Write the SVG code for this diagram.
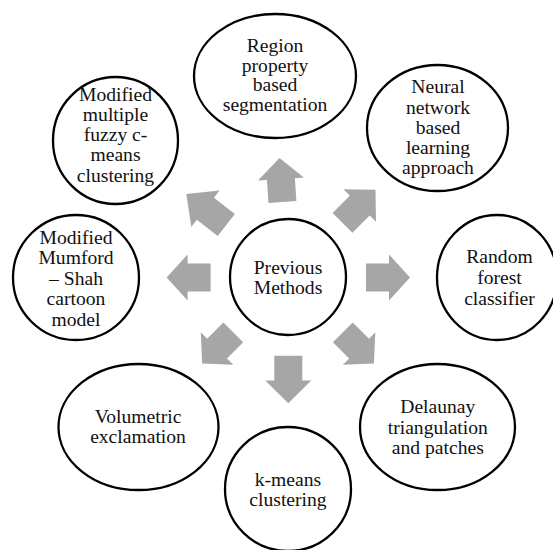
<svg xmlns="http://www.w3.org/2000/svg" xmlns:xlink="http://www.w3.org/1999/xlink" width="553" height="550" viewBox="0 0 553 550">
<style>
.node ellipse{fill:#ffffff;stroke:#000000;stroke-width:2.3}
.node text{font-family:'Liberation Serif','Times New Roman','DejaVu Serif',serif;font-size:19.6px;fill:#111111;text-anchor:middle}
.arrow{fill:#A6A6A6}
</style>
<defs>
<path id="arr" d="M0,-14 H23 V-23 L44,0 L23,23 V14 H0 Z"/>
</defs>
<rect x="0" y="0" width="553" height="550" fill="#ffffff"/>
<g id="connectors">
<use xlink:href="#arr" class="arrow" transform="translate(282.4,202) rotate(-93.7)"/>
<use xlink:href="#arr" class="arrow" transform="translate(342.5,222.8) rotate(-45) scale(1.06,1)"/>
<use xlink:href="#arr" class="arrow" transform="translate(366,277.5)"/>
<use xlink:href="#arr" class="arrow" transform="translate(342.8,332.3) rotate(45)"/>
<use xlink:href="#arr" class="arrow" transform="translate(288.3,355.7) rotate(90) scale(1.08,1)"/>
<use xlink:href="#arr" class="arrow" transform="translate(233.3,332.3) rotate(135)"/>
<use xlink:href="#arr" class="arrow" transform="translate(210.6,277.5) rotate(180)"/>
<use xlink:href="#arr" class="arrow" transform="translate(226.3,225) rotate(-142.2) scale(1.15,1)"/>
</g>
<g id="center" class="node">
<ellipse cx="288" cy="277" rx="58" ry="58"/>
<text font-family="Liberation Serif, serif"><tspan x="288" y="274">Previous</tspan><tspan x="288" y="293.5">Methods</tspan></text>
</g>
<g id="region" class="node">
<ellipse cx="275" cy="76" rx="81" ry="62"/>
<text font-family="Liberation Serif, serif"><tspan x="275" y="52">Region</tspan><tspan x="275" y="71.5">property</tspan><tspan x="275" y="91">based</tspan><tspan x="275" y="110.5">segmentation</tspan></text>
</g>
<g id="neural" class="node">
<ellipse cx="437.5" cy="128" rx="70.5" ry="63"/>
<text font-family="Liberation Serif, serif"><tspan x="438" y="93.3">Neural</tspan><tspan x="438" y="113.5">network</tspan><tspan x="438" y="134">based</tspan><tspan x="438" y="154">learning</tspan><tspan x="438" y="174">approach</tspan></text>
</g>
<g id="random" class="node">
<ellipse cx="497" cy="277.5" rx="60" ry="62.5"/>
<text font-family="Liberation Serif, serif"><tspan x="499.5" y="263.3">Random</tspan><tspan x="499.5" y="284">forest</tspan><tspan x="499.5" y="305">classifier</tspan></text>
</g>
<g id="delaunay" class="node">
<ellipse cx="437.5" cy="427" rx="77.5" ry="63"/>
<text font-family="Liberation Serif, serif"><tspan x="437.8" y="413.3">Delaunay</tspan><tspan x="437.8" y="433.5">triangulation</tspan><tspan x="437.8" y="454">and patches</tspan></text>
</g>
<g id="kmeans" class="node">
<ellipse cx="288" cy="489" rx="63" ry="62"/>
<text font-family="Liberation Serif, serif"><tspan x="288" y="485.5">k-means</tspan><tspan x="288" y="505.5">clustering</tspan></text>
</g>
<g id="volumetric" class="node">
<ellipse cx="138.5" cy="427" rx="80" ry="63"/>
<text font-family="Liberation Serif, serif"><tspan x="138" y="422.7">Volumetric</tspan><tspan x="138" y="442.7">exclamation</tspan></text>
</g>
<g id="mumford" class="node">
<ellipse cx="76" cy="277.5" rx="63" ry="62.5"/>
<text font-family="Liberation Serif, serif"><tspan x="76" y="243.5">Modified</tspan><tspan x="76" y="264">Mumford</tspan><tspan x="76" y="284.5">– Shah</tspan><tspan x="76" y="305">cartoon</tspan><tspan x="76" y="325.5">model</tspan></text>
</g>
<g id="fuzzy" class="node">
<ellipse cx="115.5" cy="140.5" rx="62.5" ry="63.5"/>
<text font-family="Liberation Serif, serif"><tspan x="115.5" y="100.7">Modified</tspan><tspan x="115.5" y="120.7">multiple</tspan><tspan x="115.5" y="140.7">fuzzy c-</tspan><tspan x="115.5" y="161.2">means</tspan><tspan x="115.5" y="181.5">clustering</tspan></text>
</g>
</svg>
